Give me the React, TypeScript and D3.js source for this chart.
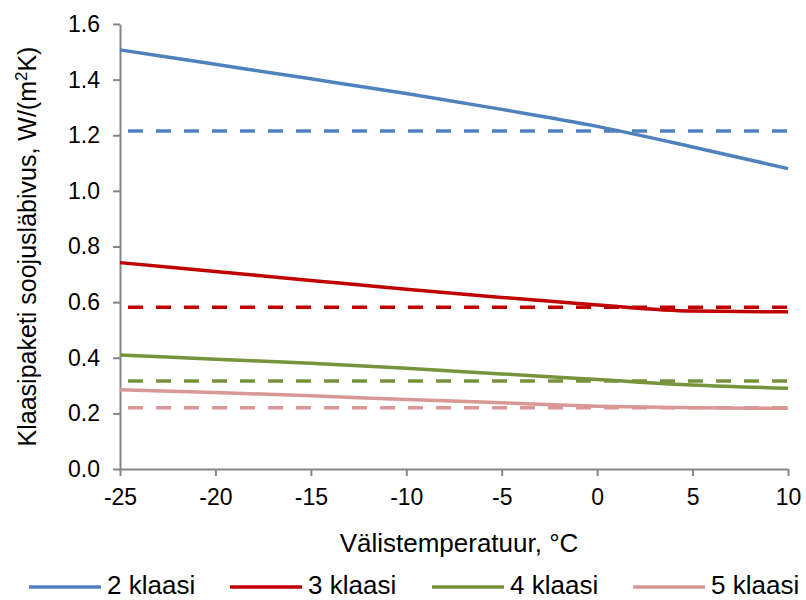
import { useEffect, useRef } from 'react';
import * as d3 from 'd3';

// temperature points (°C)
const temps = [-25, -20, -15, -10, -5, 0, 5, 10];
const seriesNames = ['2 klaasi', '3 klaasi', '4 klaasi', '5 klaasi'];
const colors = ['#4F81BD', '#C00000', '#77933C', '#D99795'];

// U-value vs temperature, W/(m2K)
const klaas2 = [1.507, 1.455, 1.403, 1.35, 1.293, 1.232, 1.158, 1.08];
const klaas3 = [0.742, 0.71, 0.678, 0.646, 0.617, 0.59, 0.568, 0.565];
const klaas4 = [0.41, 0.395, 0.38, 0.362, 0.342, 0.322, 0.302, 0.29];
const klaas5 = [0.285, 0.275, 0.263, 0.25, 0.238, 0.226, 0.22, 0.218];

// constant (nominal) values drawn dashed
const nominal = [1.215, 0.582, 0.316, 0.22];

const yTicks = [0, 0.2, 0.4, 0.6, 0.8, 1.0, 1.2, 1.4, 1.6];
const xTicks = [-25, -20, -15, -10, -5, 0, 5, 10];

const W = 806;
const H = 600;
const margin = { top: 24, right: 18, bottom: 131, left: 120 };

const App = () => {
    const svgRef = useRef<SVGSVGElement>(null);

    useEffect(() => {
        const svg = d3.select(svgRef.current);
        svg.selectAll('*').remove();

        const x = d3.scaleLinear().domain([-25, 10]).range([margin.left, W - margin.right]);
        const y = d3.scaleLinear().domain([0, 1.6]).range([H - margin.bottom, margin.top]);
        const font = "'Liberation Sans', Arial, sans-serif";
        const axisColor = '#868686';

        // axes
        const yAxis = svg.append('g')
            .attr('transform', `translate(${margin.left},0)`)
            .call(d3.axisLeft(y).tickValues(yTicks).tickFormat(d3.format('.1f')).tickSize(7).tickSizeOuter(0).tickPadding(13));
        const xAxis = svg.append('g')
            .attr('transform', `translate(0,${H - margin.bottom})`)
            .call(d3.axisBottom(x).tickValues(xTicks).tickFormat(d3.format('d')).tickSize(7).tickSizeOuter(0).tickPadding(13));

        [yAxis, xAxis].forEach(g => {
            g.select('.domain').attr('stroke', axisColor).attr('stroke-width', 2);
            g.selectAll('.tick line').attr('stroke', axisColor).attr('stroke-width', 2);
            g.selectAll('.tick text')
                .attr('fill', '#000')
                .style('font-family', font)
                .style('font-size', '23px');
        });
        xAxis.selectAll('.tick text').text((d: any) => (d < 0 ? '-' + Math.abs(d) : String(d)));

        const line = d3.line<number>()
            .x((_, i) => x(temps[i]))
            .y(d => y(d))
            .curve(d3.curveMonotoneX);

        const series = [klaas2, klaas3, klaas4, klaas5];

        // dashed nominal lines
        nominal.forEach((v, i) => {
            svg.append('path')
                .attr('d', line(temps.map(() => v)))
                .attr('fill', 'none')
                .attr('stroke', colors[i])
                .attr('stroke-width', 3.5)
                .attr('stroke-dasharray', '15 13')
                .attr('stroke-dashoffset', 20);
        });

        // solid series
        series.forEach((s, i) => {
            svg.append('path')
                .attr('d', line(s))
                .attr('fill', 'none')
                .attr('stroke', colors[i])
                .attr('stroke-width', 3.5);
        });

        // axis titles
        svg.append('text')
            .attr('x', (margin.left + W - margin.right) / 2 + 5)
            .attr('y', 552)
            .attr('text-anchor', 'middle')
            .style('font-family', font)
            .style('font-size', '26px')
            .text('Välistemperatuur, °C');

        const yt = svg.append('text')
            .attr('transform', `translate(36,${(margin.top + H - margin.bottom) / 2}) rotate(-90)`)
            .attr('text-anchor', 'middle')
            .style('font-family', font)
            .style('font-size', '25px');
        yt.append('tspan').text('Klaasipaketi soojusläbivus, W/(m');
        yt.append('tspan').attr('dy', -9).style('font-size', '17px').text('2');
        yt.append('tspan').attr('dy', 9).text('K)');

        // legend
        const legendX = [29, 230, 432, 633];
        const legend = svg.append('g');
        seriesNames.forEach((name, i) => {
            legend.append('line')
                .attr('x1', legendX[i]).attr('x2', legendX[i] + 72)
                .attr('y1', 587).attr('y2', 587)
                .attr('stroke', colors[i])
                .attr('stroke-width', 3.5);
            legend.append('text')
                .attr('x', legendX[i] + 78)
                .attr('y', 594)
                .style('font-family', font)
                .style('font-size', '26px')
                .text(name);
        });
    }, []);

    return (
        <div style={{ position: 'absolute', left: 0, top: 0 }}>
            <svg ref={svgRef} width={W} height={H} style={{ display: 'block', background: '#fff' }}></svg>
        </div>
    );
};

export default App;
